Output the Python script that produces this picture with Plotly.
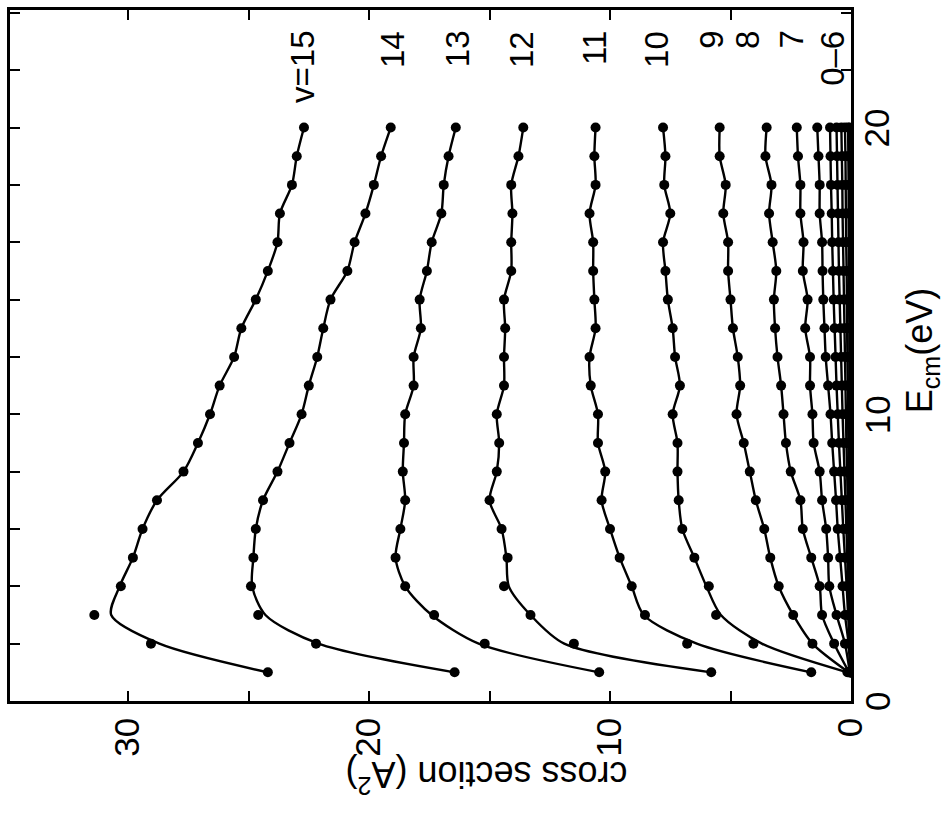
import plotly.graph_objects as go

# Collision energy grid (eV)
energy = list(range(1, 21))

# Cross sections (A^2) for each vibrational level v
cs_v15 = [24.2, 29.05, 31.4, 30.3, 29.8, 29.4, 28.8, 27.7, 27.1, 26.6, 26.2, 25.6, 25.3, 24.7, 24.2, 23.8, 23.7, 23.2, 23.0, 22.7]
cs_v14 = [16.45, 22.2, 24.6, 24.9, 24.8, 24.7, 24.4, 23.8, 23.3, 22.8, 22.5, 22.15, 21.9, 21.6, 20.9, 20.6, 20.15, 19.8, 19.5, 19.1]
cs_v13 = [10.45, 15.2, 17.3, 18.5, 18.9, 18.7, 18.5, 18.6, 18.55, 18.5, 18.15, 18.15, 17.85, 17.9, 17.6, 17.4, 17.0, 16.9, 16.7, 16.4]
cs_v12 = [5.8, 11.5, 13.3, 14.4, 14.25, 14.5, 15.0, 14.7, 14.6, 14.7, 14.4, 14.4, 14.35, 14.4, 14.1, 14.1, 14.05, 14.1, 13.8, 13.6]
cs_v11 = [1.65, 6.8, 8.55, 9.1, 9.6, 10.0, 10.35, 10.2, 10.5, 10.5, 10.8, 10.85, 10.6, 10.65, 10.7, 10.7, 10.85, 10.6, 10.65, 10.6]
cs_v10 = [0.15, 4.05, 5.6, 5.9, 6.5, 7.0, 7.15, 7.2, 7.2, 7.4, 7.1, 7.3, 7.4, 7.6, 7.7, 7.8, 7.5, 7.75, 7.7, 7.8]
cs_v9 = [0.1, 1.6, 2.4, 3.0, 3.35, 3.6, 3.95, 4.2, 4.45, 4.75, 4.6, 4.7, 4.9, 5.0, 5.1, 5.1, 5.3, 5.2, 5.45, 5.45]
cs_v8 = [0.08, 0.7, 1.2, 1.3, 1.65, 2.0, 2.1, 2.5, 2.7, 2.8, 2.9, 3.05, 3.15, 3.2, 3.1, 3.25, 3.4, 3.3, 3.55, 3.5]
cs_v7 = [0.05, 0.25, 0.6, 0.9, 0.95, 1.03, 1.2, 1.3, 1.55, 1.6, 1.7, 1.7, 1.9, 1.8, 2.0, 1.97, 2.1, 2.1, 2.2, 2.25]
cs_v6 = [0.03, 0.1, 0.25, 0.35, 0.45, 0.55, 0.62, 0.7, 0.78, 0.85, 0.95, 1.05, 1.1, 1.15, 1.18, 1.2, 1.3, 1.3, 1.35, 1.4]
cs_v5 = [0.02, 0.06, 0.12, 0.18, 0.25, 0.32, 0.38, 0.44, 0.5, 0.55, 0.6, 0.64, 0.68, 0.72, 0.75, 0.78, 0.8, 0.83, 0.85, 0.87]
cs_v4 = [0.01, 0.03, 0.07, 0.11, 0.15, 0.19, 0.23, 0.27, 0.31, 0.35, 0.38, 0.41, 0.44, 0.47, 0.5, 0.52, 0.54, 0.56, 0.58, 0.6]
cs_v3 = [0.01, 0.02, 0.04, 0.06, 0.09, 0.11, 0.14, 0.16, 0.19, 0.21, 0.23, 0.25, 0.27, 0.29, 0.31, 0.33, 0.35, 0.36, 0.38, 0.4]
cs_v2 = [0.0, 0.01, 0.02, 0.03, 0.05, 0.06, 0.08, 0.09, 0.11, 0.12, 0.13, 0.15, 0.16, 0.17, 0.18, 0.2, 0.21, 0.22, 0.23, 0.25]
cs_v1 = [0.0, 0.0, 0.01, 0.01, 0.02, 0.03, 0.03, 0.04, 0.05, 0.05, 0.06, 0.07, 0.07, 0.08, 0.09, 0.09, 0.1, 0.1, 0.11, 0.12]
cs_v0 = [0.0, 0.0, 0.0, 0.0, 0.01, 0.01, 0.01, 0.01, 0.02, 0.02, 0.02, 0.02, 0.03, 0.03, 0.03, 0.03, 0.04, 0.04, 0.05, 0.05]

# Smooth-fit values at E = 1..5 where the fitted curve departs from the points
fit_low_v15 = [24.2, 28.7, 30.7, 30.35, 29.8]
fit_low_v14 = [16.45, 22.1, 24.3, 24.85, 24.8]
fit_low_v13 = [10.45, 15.45, 17.4, 18.5, 18.9]
fit_low_v12 = [5.8, 11.9, 13.3, 14.2, 14.3]
fit_low_v11 = [1.65, 6.4, 8.6, 9.1, 9.6]
fit_low_v10 = [0.15, 3.7, 5.4, 6.0, 6.5]

levels = [
    ("v15", cs_v15, fit_low_v15),
    ("v14", cs_v14, fit_low_v14),
    ("v13", cs_v13, fit_low_v13),
    ("v12", cs_v12, fit_low_v12),
    ("v11", cs_v11, fit_low_v11),
    ("v10", cs_v10, fit_low_v10),
    ("v9", cs_v9, None),
    ("v8", cs_v8, None),
    ("v7", cs_v7, None),
    ("v6", cs_v6, None),
    ("v5", cs_v5, None),
    ("v4", cs_v4, None),
    ("v3", cs_v3, None),
    ("v2", cs_v2, None),
    ("v1", cs_v1, None),
    ("v0", cs_v0, None),
]

# Level labels placed above the high-energy ends of the curves
label_texts = ["v=15", "14", "13", "12", "11", "10", "9", "8", "7", "0\u20136"]
label_cs = [22.77, 19.05, 16.35, 13.7, 10.65, 8.1, 5.8, 4.3, 2.45, 0.8]

# Energy-axis tick labels
energy_ticks = [0, 10, 20]

FONT = "Liberation Sans, Arial, Helvetica, sans-serif"

W, H = 947, 813
L, R, T, B = 7, 96, 7, 112
pw, ph = W - L - R, H - T - B


def paper_x(px):
    return (px - L) / pw


def paper_y(py):
    return 1 - (py - T) / ph


fig = go.Figure()
for name, pts, fit_low in levels:
    line_vals = (fit_low + pts[len(fit_low):]) if fit_low else pts
    fig.add_trace(go.Scatter(
        x=line_vals, y=energy, mode="lines",
        line=dict(color="black", width=2.4, shape="spline", smoothing=0.8),
        showlegend=False, hoverinfo="skip", name=name,
    ))
    fig.add_trace(go.Scatter(
        x=pts, y=energy, mode="markers",
        marker=dict(color="black", size=10),
        showlegend=False, name=name,
    ))

for txt, xv in zip(label_texts, label_cs):
    fig.add_annotation(
        x=xv, y=23.45, xref="x", yref="y", text=txt, showarrow=False,
        textangle=-90, yanchor="top", xanchor="center",
        font=dict(family=FONT, size=33, color="black"),
    )

# Energy tick labels sit just outside the right-hand frame, rotated with it
for ev in energy_ticks:
    fig.add_annotation(
        x=paper_x(877), y=ev, xref="paper", yref="y", text=str(ev),
        showarrow=False, textangle=-90, xanchor="center", yanchor="middle",
        font=dict(family=FONT, size=35, color="black"),
    )

# Axis titles, oriented with the rotated frame
fig.add_annotation(
    x=paper_x(922), y=paper_y(349), xref="paper", yref="paper",
    text="E<sub>cm</sub>(eV)", showarrow=False, textangle=-90,
    xanchor="center", yanchor="middle",
    font=dict(family=FONT, size=36, color="black"),
)
fig.add_annotation(
    x=paper_x(485), y=paper_y(778), xref="paper", yref="paper",
    text="cross section (A<sup>2</sup>)", showarrow=False, textangle=180,
    xanchor="center", yanchor="middle",
    font=dict(family=FONT, size=36, color="black"),
)

fig.update_layout(
    width=W, height=H,
    margin=dict(l=L, r=R, t=T, b=B),
    plot_bgcolor="white", paper_bgcolor="white",
    font=dict(family=FONT, color="black"),
    xaxis=dict(
        range=[34.9, 0], showgrid=False, zeroline=False,
        showline=True, linecolor="black", linewidth=2.5, mirror="allticks",
        ticks="inside", ticklen=10, tickwidth=2, tickcolor="black",
        tickmode="linear", tick0=0, dtick=10, tickangle=-90,
        tickfont=dict(family=FONT, size=35, color="black"),
        minor=dict(ticks="inside", ticklen=10, tickwidth=2, tickcolor="black", dtick=5, tick0=0, showgrid=False),
    ),
    yaxis=dict(
        range=[0, 24.1], side="right", showgrid=False, zeroline=False,
        showline=True, linecolor="black", linewidth=2.5, mirror="allticks",
        ticks="inside", ticklen=10, tickwidth=2, tickcolor="black",
        tickmode="linear", tick0=0, dtick=10, showticklabels=False,
        minor=dict(ticks="inside", ticklen=10, tickwidth=2, tickcolor="black", dtick=2, tick0=0, showgrid=False),
    ),
)

fig.write_html("out.html")
